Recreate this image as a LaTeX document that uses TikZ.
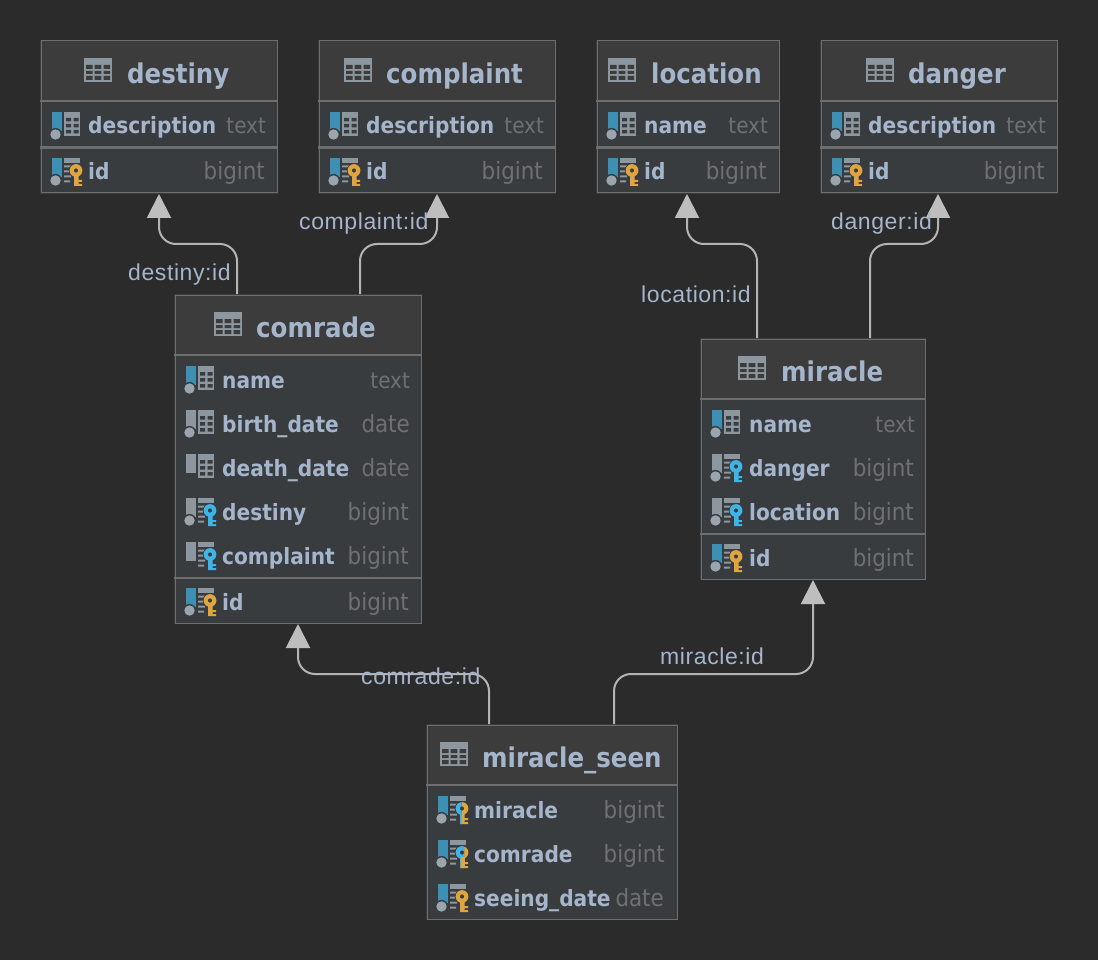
\documentclass[tikz,border=0pt]{standalone}
\usepackage{fontspec}
\setmainfont{DejaVu Sans Condensed}
\newfontfamily\lblfont{Liberation Sans}
\usetikzlibrary{arrows.meta}
\definecolor{bgc}{HTML}{2B2B2B}
\definecolor{headc}{HTML}{3C3C3C}
\definecolor{bodyc}{HTML}{393C3F}
\definecolor{edgec}{HTML}{6E6E6E}
\definecolor{txtc}{HTML}{A5B5CB}
\definecolor{typec}{HTML}{707070}
\definecolor{iconc}{HTML}{8C979F}
\definecolor{barblue}{HTML}{3D8FB3}
\definecolor{dotc}{HTML}{9AA5AD}
\definecolor{keyo}{HTML}{E0A53F}
\definecolor{keyb}{HTML}{3FB4E6}
\definecolor{linec}{HTML}{B4B4B4}
\definecolor{tipc}{HTML}{BEBEBE}
\tikzset{
  frame/.style={draw=edgec,line width=1pt,anchor=north west,inner sep=0pt,outer sep=0pt},
  rule/.style={draw=edgec,line width=2.2pt},
  ttl/.style={anchor=base west,inner sep=0pt,text=txtc,font=\fontsize{27.2}{30}\selectfont\bfseries},
  cname/.style={anchor=base west,inner sep=0pt,text=txtc,font=\fontsize{22.4}{24}\selectfont\bfseries},
  ctype/.style={anchor=base east,inner sep=0pt,text=typec,font=\fontsize{23.8}{24}\selectfont},
  lbl/.style={anchor=base west,inner sep=0pt,text=txtc,font=\lblfont\fontsize{23}{24}\selectfont\addfontfeature{LetterSpace=2.6}},
  conn/.style={draw=linec,line width=2pt,rounded corners=17pt,-{Triangle[length=24pt,width=24pt,fill=tipc,color=tipc]}},
}
\newcommand{\txttype}{{\fontsize{22.2}{24}\selectfont text}}
% table box: id, x1, y1, x2, y2, header rule y, separator y (0 = none), icon x, title x (title in \tbltitle)
\newcommand{\tbl}[9]{%
  \fill[bodyc] (#2,#3) rectangle (#4,#5);
  \fill[headc] (#2,#3) rectangle (#4,#6);
  \draw[rule] (#2,#6+.8) -- (#4,#6+.8);
  \ifnum#7>0 \draw[rule] (#2,#7+.6) -- (#4,#7+.6);\fi
  \begin{scope}[shift={(#8,#3+18)}]
    \fill[iconc] (0,0) rectangle (28,24);
    \fill[headc] (2,7) rectangle (8.5,11) (10.7,7) rectangle (17.3,11) (19.5,7) rectangle (26,11)
                 (2,13) rectangle (8.5,16) (10.7,13) rectangle (17.3,16) (19.5,13) rectangle (26,16)
                 (2,18) rectangle (8.5,22) (10.7,18) rectangle (17.3,22) (19.5,18) rectangle (26,22);
  \end{scope}
  \node[frame,minimum width=#4pt-#2pt-1.5pt,minimum height=#5pt-#3pt-2pt] (#1) at (#2+1,#3+1) {};
  \node[ttl] (#1-title) at (#9,#3+43.5) {\tbltitle};
}
\newcommand{\tbltitle}{}
\newcommand{\plaingrid}{%
  \fill[iconc] (12,-14) rectangle (28,10);
  \fill[bodyc] (14,-8) rectangle (19,-4.5) (21.5,-8) rectangle (26.5,-4.5)
               (14,-2) rectangle (19,1.5) (21.5,-2) rectangle (26.5,1.5)
               (14,4) rectangle (19,7.5) (21.5,4) rectangle (26.5,7.5);
}
\newcommand{\keygrid}{%
  \fill[iconc] (12,-14) rectangle (28,-9);
  \fill[iconc] (12,-6.5) rectangle (19,-4.5) (12,-1.5) rectangle (18,.5) (12,3.5) rectangle (19,5.5) (12,8.5) rectangle (18,10.5);
}
\newcommand{\keyshape}[1]{%
  \fill[bodyc] (24,-1.5) circle (7.2);
  \fill[#1,even odd rule] (24,-1.5) circle (6.4) (24,-1.5) circle (2.2);
  \fill[#1] (22,3) rectangle (26.5,14) (26.5,8) rectangle (30,10) (26.5,12) rectangle (30,14);
}
% kinds: p plain, o orange key, b blue key, m half-half, c blue core
\newcommand{\ico}[2]{%
  \ifx#1p\plaingrid\else\keygrid
    \ifx#1o\keyshape{keyo}\fi
    \ifx#1b\keyshape{keyb}\fi
    \ifx#1m\keyshape{keyo}\begin{scope}\clip (15,-10) rectangle (23.5,15);\keyshape{keyb}\end{scope}\fi
    \ifx#1c\keyshape{keyo}\begin{scope}\clip (15,-10) rectangle (26,15);\keyshape{keyb}\end{scope}%
      \fill[keyo] (23.2,3) rectangle (26.5,14);\fi
  \fi
  \fill[#2] (0,-14) rectangle (10,5);
}
% row: icon x, name x, right x, centre y, bar colour, dot(1/0), kind, name, type
\newcommand{\rowline}[9]{%
  \begin{scope}[shift={(#1,#4)}]
    \ico{#7}{#5}
    \ifnum#6=1 \fill[bodyc] (3.5,8.5) circle (6.6);\fill[dotc] (3.5,8.5) circle (5.2);\fi
  \end{scope}
  \node[cname] at (#2,#4+8) {#8};
  \node[ctype] at (#3,#4+8) {#9};
}
\begin{document}
\begin{tikzpicture}[x=1pt,y=-1pt]
\useasboundingbox (0,0) rectangle (1098,960);
\fill[bgc] (0,0) rectangle (1098,960);

\renewcommand{\tbltitle}{destiny}
\tbl{destiny}{40}{40}{278}{194}{100}{147}{84}{127}
\rowline{52}{88}{266}{126}{barblue}{1}{p}{description}{\txttype}
\rowline{52}{88}{265}{172}{barblue}{1}{o}{id}{bigint}

\renewcommand{\tbltitle}{complaint}
\tbl{complaint}{318}{40}{556}{194}{100}{147}{344}{386}
\rowline{330}{366}{544}{126}{barblue}{1}{p}{description}{\txttype}
\rowline{330}{366}{543}{172}{barblue}{1}{o}{id}{bigint}

\renewcommand{\tbltitle}{location}
\tbl{location}{596}{40}{780}{194}{100}{147}{608}{651}
\rowline{608}{644}{768}{126}{barblue}{1}{p}{name}{\txttype}
\rowline{608}{644}{767}{172}{barblue}{1}{o}{id}{bigint}

\renewcommand{\tbltitle}{danger}
\tbl{danger}{820}{40}{1058}{194}{100}{147}{866}{908}
\rowline{832}{868}{1046}{126}{barblue}{1}{p}{description}{\txttype}
\rowline{832}{868}{1045}{172}{barblue}{1}{o}{id}{bigint}

\renewcommand{\tbltitle}{comrade}
\tbl{comrade}{174}{294}{422}{624}{354}{577}{214}{256}
\rowline{186}{222}{410}{380}{barblue}{1}{p}{name}{\txttype}
\rowline{186}{222}{410}{424}{iconc}{1}{p}{birth\_date}{date}
\rowline{186}{222}{410}{468}{iconc}{0}{p}{death\_date}{date}
\rowline{186}{222}{409}{512}{iconc}{1}{b}{destiny}{bigint}
\rowline{186}{222}{409}{556}{iconc}{0}{b}{complaint}{bigint}
\rowline{186}{222}{409}{602}{barblue}{1}{o}{id}{bigint}

\renewcommand{\tbltitle}{miracle}
\tbl{miracle}{700}{338}{926}{580}{398}{533}{738}{781}
\rowline{712}{749}{915}{424}{barblue}{1}{p}{name}{\txttype}
\rowline{712}{749}{914}{468}{iconc}{1}{b}{danger}{bigint}
\rowline{712}{749}{914}{512}{iconc}{1}{b}{location}{bigint}
\rowline{712}{749}{914}{558}{barblue}{1}{o}{id}{bigint}

\renewcommand{\tbltitle}{miracle\_seen}
\tbl{miracle_seen}{426}{724}{678}{920}{784}{0}{440}{482}
\rowline{438}{474}{665}{810}{barblue}{1}{m}{miracle}{bigint}
\rowline{438}{474}{665}{854}{barblue}{1}{c}{comrade}{bigint}
\rowline{438}{474}{664}{898}{barblue}{1}{o}{seeing\_date}{date}

\coordinate (a1) at (237,294); \coordinate (t1) at (159,194);
\coordinate (a2) at (360,294); \coordinate (t2) at (437,194);
\coordinate (a3) at (757,338); \coordinate (t3) at (687,194);
\coordinate (a4) at (870,338); \coordinate (t4) at (938,194);
\coordinate (a5) at (489,724); \coordinate (t5) at (298,624);
\coordinate (a6) at (614,724); \coordinate (t6) at (813,580);

\draw[conn] (a1) -- (237,244) -- (159,244) -- (t1);
\draw[conn] (a2) -- (360,244) -- (437,244) -- (t2);
\draw[conn] (a3) -- (757,244) -- (687,244) -- (t3);
\draw[conn] (a4) -- (870,244) -- (938,244) -- (t4);
\draw[conn] (a5) -- (489,674) -- (298,674) -- (t5);
\draw[conn] (a6) -- (614,674) -- (813,674) -- (t6);

\node[lbl] (l1) at (128,280) {destiny:id};
\node[lbl] (l2) at (299,230) {complaint:id};
\node[lbl] (l3) at (641,302) {location:id};
\node[lbl] (l4) at (831,230) {danger:id};
\node[lbl] (l5) at (361,684.5) {comrade:id};
\node[lbl] (l6) at (660,664.5) {miracle:id};
\end{tikzpicture}
\end{document}
